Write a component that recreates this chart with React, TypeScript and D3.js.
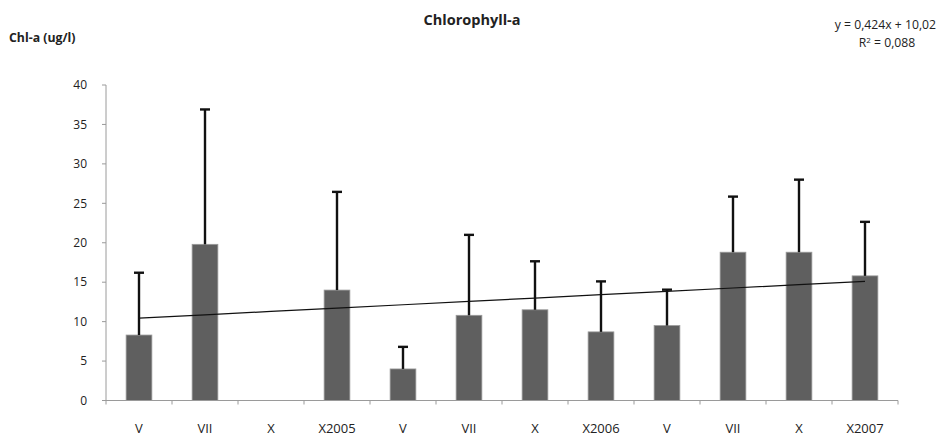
import React from "react";
import * as d3 from "d3";

// Sampling periods (months, roman numerals) across three years
const categories = ["V", "VII", "X", "X2005", "V", "VII", "X", "X2006", "V", "VII", "X", "X2007"];
// Mean chlorophyll-a per period (ug/l)
const means = [8.3, 19.8, 0, 14.0, 4.0, 10.8, 11.5, 8.7, 9.5, 18.8, 18.8, 15.8];
// Upper end of the standard deviation whisker
const upper = [16.2, 36.9, 0, 26.45, 6.8, 21.0, 17.65, 15.1, 14.05, 25.85, 28.0, 22.65];
const yTicks = [0, 5, 10, 15, 20, 25, 30, 35, 40];
// Linear trend fitted over the period index 1..12
const trendSlope = 0.424;
const trendIntercept = 10.02;
const trendLabel = "y = 0,424x + 10,02";
const r2Label = "0,088";

const W = 939;
const H = 437;
const FONT = "'Open Sans', 'DejaVu Sans', sans-serif";

export default function App() {
  const left = 106;
  const right = 898;
  const top = 85;
  const bottom = 400.5;

  const x = d3.scaleBand<number>().domain(d3.range(categories.length)).range([left, right]).paddingInner(0).paddingOuter(0);
  const y = d3.scaleLinear().domain([0, 40]).range([bottom, top]);
  const bw = x.bandwidth();
  const barW = bw * 0.39;
  const cx = (i: number) => (x(i) as number) + bw / 2;

  const trend = d3
    .line<number>()
    .x((i) => cx(i))
    .y((i) => y(trendSlope * (i + 1) + trendIntercept));

  const axisColor = "#9a9a9a";

  return (
    <svg width={W} height={H} style={{ position: "absolute", left: 0, top: 0, background: "#fff" }} fontFamily={FONT}>
      <rect width={W} height={H} fill="#fff" />
      <text x={472} y={25} textAnchor="middle" fontSize={14.5} fontWeight="bold" fill="#222">
        Chlorophyll-a
      </text>
      <text x={9} y={42} fontSize={12.3} fontWeight="bold" fill="#222">
        Chl-a (ug/l)
      </text>
      <text x={936} y={28.5} textAnchor="end" fontSize={12.2} fill="#222">
        {trendLabel}
      </text>
      <text x={887} y={47} textAnchor="middle" fontSize={12.2} fill="#222">
        R<tspan fontSize={8} dy={-4.5}>2</tspan>
        <tspan dy={4.5}> = {r2Label}</tspan>
      </text>

      {/* y axis */}
      <line x1={left} x2={left} y1={top} y2={bottom} stroke={axisColor} strokeWidth={1} />
      {yTicks.map((t) => (
        <g key={t}>
          <line x1={left - 4} x2={left} y1={y(t)} y2={y(t)} stroke={axisColor} />
          <text x={87} y={y(t) + 4.3} textAnchor="end" fontSize={12} fill="#222">
            {t}
          </text>
        </g>
      ))}

      {/* bars */}
      {means.map((v, i) =>
        v > 0 ? (
          <rect
            key={i}
            x={cx(i) - barW / 2}
            y={y(v)}
            width={barW}
            height={y(0) - y(v)}
            fill="#5f5f5f"
            stroke="#9a9a9a"
            strokeWidth={0.8}
          />
        ) : null
      )}

      {/* error bars */}
      {upper.map((u, i) =>
        means[i] > 0 ? (
          <g key={i} stroke="#111" strokeWidth={2.4}>
            <line x1={cx(i)} x2={cx(i)} y1={y(means[i])} y2={y(u)} />
            <line x1={cx(i) - 5} x2={cx(i) + 5} y1={y(u)} y2={y(u)} />
          </g>
        ) : null
      )}

      {/* trend line */}
      <path d={trend(d3.range(categories.length)) || ""} fill="none" stroke="#111" strokeWidth={1.2} />

      {/* x axis */}
      <line x1={left} x2={right} y1={bottom} y2={bottom} stroke={axisColor} />
      {d3.range(categories.length + 1).map((i) => {
        const xx = left + i * bw;
        return <line key={i} x1={xx} x2={xx} y1={bottom} y2={bottom + 4} stroke={axisColor} />;
      })}
      {categories.map((c, i) => (
        <text key={i} x={cx(i)} y={433} textAnchor="middle" fontSize={13} fill="#222">
          {c}
        </text>
      ))}
    </svg>
  );
}
